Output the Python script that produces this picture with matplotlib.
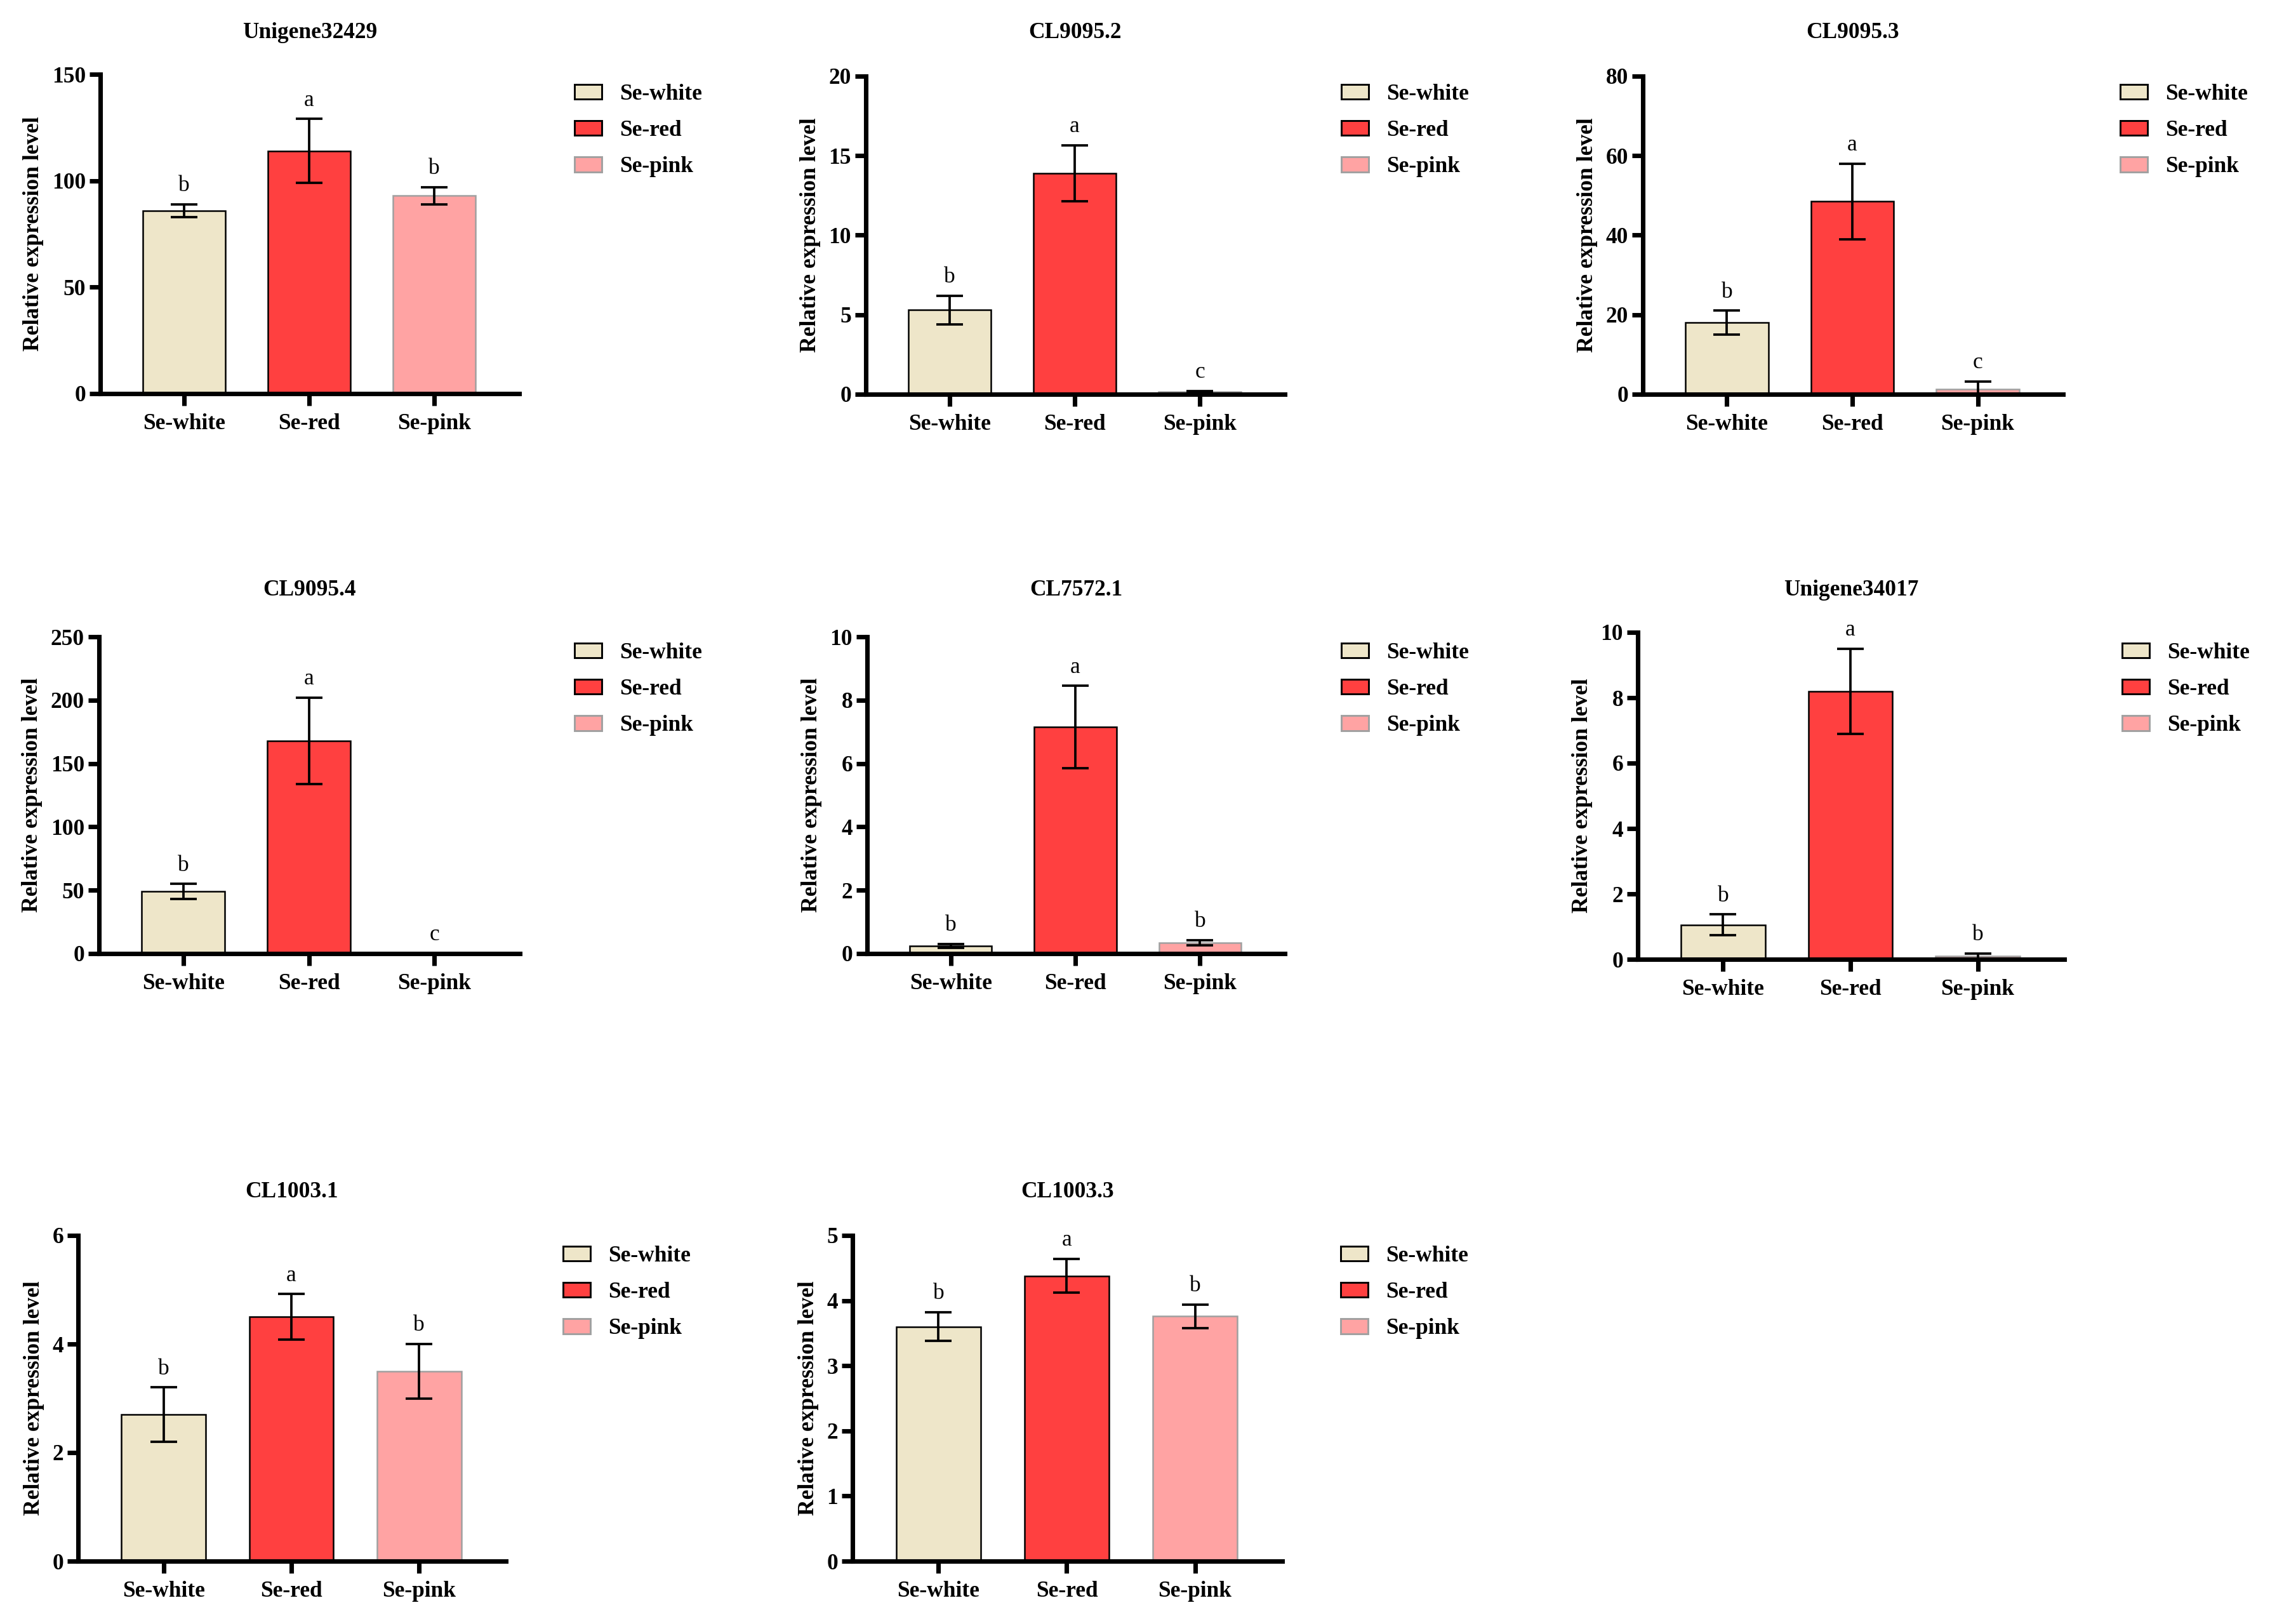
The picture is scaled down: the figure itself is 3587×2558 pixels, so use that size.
import numpy as np
import matplotlib
matplotlib.use('Agg')
import matplotlib.pyplot as plt
from matplotlib.patches import Patch

plt.rcParams['font.family'] = ['Liberation Serif', 'DejaVu Serif']

W, H = 3587, 2558

groups = ['Se-white', 'Se-red', 'Se-pink']
fills = ['#EEE6C9', '#FF4040', '#FFA3A3']
edges = ['black', 'black', '#A0A0A0']

titles = ['Unigene32429', 'CL9095.2', 'CL9095.3',
          'CL9095.4', 'CL7572.1', 'Unigene34017',
          'CL1003.1', 'CL1003.3']

means = [
    [86, 114, 93],
    [5.3, 13.9, 0.15],
    [18, 48.5, 1.3],
    [49, 168, 0.4],
    [0.25, 7.15, 0.35],
    [1.05, 8.2, 0.1],
    [2.7, 4.5, 3.5],
    [3.6, 4.38, 3.76],
]
errs = [
    [3, 15, 4],
    [0.9, 1.75, 0.05],
    [3, 9.5, 1.9],
    [6, 34, 0.0],
    [0.06, 1.3, 0.08],
    [0.32, 1.3, 0.08],
    [0.5, 0.42, 0.5],
    [0.22, 0.26, 0.18],
]
letters = [
    ['b', 'a', 'b'],
    ['b', 'a', 'c'],
    ['b', 'a', 'c'],
    ['b', 'a', 'c'],
    ['b', 'a', 'b'],
    ['b', 'a', 'b'],
    ['b', 'a', 'b'],
    ['b', 'a', 'b'],
]
ymax = [150, 20, 80, 250, 10, 10, 6, 5]
ystep = [50, 5, 20, 50, 2, 2, 2, 1]

# axes boxes in pixels: x0, x1, ytop, ybottom
boxes = [
    (158, 818, 117, 620),
    (1364, 2024, 120, 621),
    (2588, 3250, 120, 621),
    (156, 819, 1003, 1502),
    (1366, 2024, 1003, 1502),
    (2580, 3252, 996, 1511),
    (123, 797, 1946, 2459),
    (1343, 2020, 1946, 2459),
]
title_y = [51, 51, 51, 929, 929, 929, 1878, 1878]
leg_pos = [(905, 132), (2113, 132), (3340, 132),
           (905, 1012), (2113, 1012), (3343, 1012),
           (887, 1962), (2112, 1962)]

fig = plt.figure(figsize=(W / 300, H / 300), dpi=300)
x = np.arange(3)

for i in range(8):
    x0, x1, yt, yb = boxes[i]
    ax = fig.add_axes([x0 / W, 1 - yb / H, (x1 - x0) / W, (yb - yt) / H])
    ax.bar(x, means[i], width=0.66, color=fills, edgecolor=edges, linewidth=0.6, zorder=2)
    for j in range(3):
        if errs[i][j] > 0:
            ax.errorbar(x[j], means[i][j], yerr=errs[i][j], fmt='none', ecolor='black',
                        elinewidth=0.9, capsize=5, capthick=0.9, zorder=3)
        ax.text(x[j], means[i][j] + errs[i][j] + 0.025 * ymax[i], letters[i][j],
                ha='center', va='bottom', fontsize=8.5)
    ax.set_xlim(-0.67, 2.68)
    ax.set_ylim(0, ymax[i])
    ax.set_yticks(np.arange(0, ymax[i] + ystep[i] / 2, ystep[i]))
    ax.set_xticks(x)
    ax.set_xticklabels(groups, fontweight='bold', fontsize=8.5)
    for t in ax.get_yticklabels():
        t.set_fontweight('bold')
        t.set_fontsize(8.5)
    for s in ['top', 'right']:
        ax.spines[s].set_visible(False)
    for s in ['left', 'bottom']:
        ax.spines[s].set_linewidth(1.7)
    ax.tick_params(axis='x', length=4.5, width=1.7, pad=3)
    ax.tick_params(axis='y', length=4, width=1.7, pad=1.5)
    ax.set_ylabel('Relative expression level', fontweight='bold', fontsize=8.5, labelpad=3)
    fig.text((x0 + x1) / 2 / W, 1 - title_y[i] / H, titles[i], ha='center', va='center',
             fontweight='bold', fontsize=8.5)

    handles = [Patch(facecolor=fills[k], edgecolor=edges[k], linewidth=0.7) for k in range(3)]
    lx, ly = leg_pos[i]
    ax.legend(handles, groups, loc='upper left', bbox_to_anchor=(lx / W, 1 - ly / H),
              bbox_transform=fig.transFigure, frameon=False, prop={'weight': 'bold', 'size': 8.5},
              handlelength=1.2, handleheight=0.65, handletextpad=0.8, labelspacing=0.68,
              borderaxespad=0, borderpad=0)

fig.savefig('out.png', dpi=300)
